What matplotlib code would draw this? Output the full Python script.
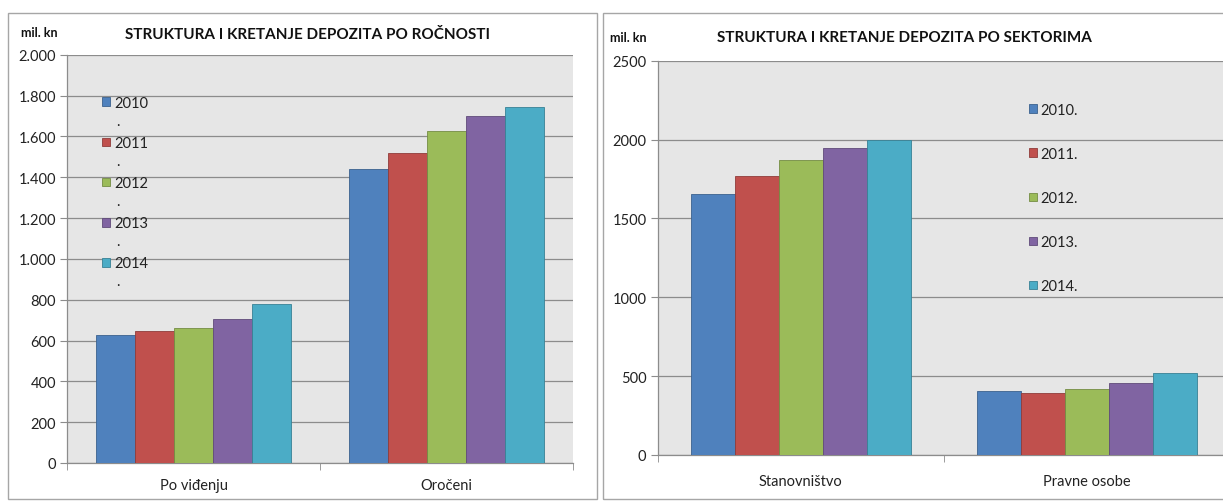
import matplotlib
matplotlib.use("Agg")
import matplotlib.pyplot as plt
import matplotlib.colors as mcolors
from matplotlib.patches import Rectangle
import numpy as np

# ---------------- data ----------------
years = ["2010", "2011", "2012", "2013", "2014"]
colors = ["#4F81BD", "#C0504D", "#9BBB59", "#8064A2", "#4BACC6"]

left_title = "STRUKTURA I KRETANJE DEPOZITA PO ROČNOSTI"
left_categories = ["Po viđenju", "Oročeni"]
left_values = {
    "2010": [625, 1438],
    "2011": [648, 1518],
    "2012": [660, 1627],
    "2013": [705, 1700],
    "2014": [778, 1743],
}
left_yticks = [0, 200, 400, 600, 800, 1000, 1200, 1400, 1600, 1800, 2000]
left_yticklabels = ["0", "200", "400", "600", "800", "1.000", "1.200",
                    "1.400", "1.600", "1.800", "2.000"]

right_title = "STRUKTURA I KRETANJE DEPOZITA PO SEKTORIMA"
right_categories = ["Stanovništvo", "Pravne osobe"]
right_values = {
    "2010.": [1658, 403],
    "2011.": [1772, 392],
    "2012.": [1873, 416],
    "2013.": [1945, 454],
    "2014.": [1995, 521],
}
right_yticks = [0, 500, 1000, 1500, 2000, 2500]
right_yticklabels = ["0", "500", "1000", "1500", "2000", "2500"]
unit_label = "mil. kn"

# ---------------- layout ----------------
W, H = 1223, 502
FONT = "Lato"
plt.rcParams["font.family"] = [FONT, "DejaVu Sans"]

fig = plt.figure(figsize=(W / 100, H / 100), dpi=100)


def fx(x):
    return x / W


def fy(y):
    return 1 - y / H


def ax_rect(l, t, r, b):
    return [fx(l), fy(b), (r - l) / W, (b - t) / H]


BG = "#E6E6E6"
GRID = "#8C8C8C"
AX = "#8C8C8C"
TXT = "#222222"

# outer frames
fig.patches.append(Rectangle((fx(8), fy(500)), (597 - 8) / W, (500 - 14) / H,
                             transform=fig.transFigure, fill=False,
                             edgecolor="#A6A6A6", linewidth=1.0))
fig.patches.append(Rectangle((fx(603), fy(500)), (1240 - 603) / W, (500 - 14) / H,
                             transform=fig.transFigure, fill=False,
                             edgecolor="#A6A6A6", linewidth=1.0))


def darker(c, f=0.8):
    r, g, b = mcolors.to_rgb(c)
    return (r * f, g * f, b * f)


def draw(ax, cats, values, yticks, yticklabels, ymax, xpad):
    n = len(values)
    x = np.arange(len(cats))
    group = 1 / 1.3
    w = group / n
    handles = []
    for i, (lab, vals) in enumerate(values.items()):
        off = (i - (n - 1) / 2) * w
        b = ax.bar(x + off, vals, width=w, color=colors[i],
                   edgecolor=darker(colors[i], 0.75), linewidth=0.6,
                   zorder=3)
        handles.append(b)
    ax.set_xlim(-0.5, len(cats) - 0.5)
    ax.set_ylim(0, ymax)
    ax.set_facecolor(BG)
    ax.set_yticks(yticks)
    ax.set_yticklabels(yticklabels)
    ax.yaxis.grid(True, color=GRID, linewidth=0.9, zorder=1)
    ax.set_axisbelow(True)
    ax.set_xticks(x)
    ax.set_xticklabels(cats)
    ax.set_xticks(np.arange(len(cats) + 1) - 0.5, minor=True)
    ax.tick_params(axis="x", which="major", length=0, pad=xpad,
                   labelsize=10.5, labelcolor=TXT)
    ax.tick_params(axis="x", which="minor", length=5, color=AX,
                   direction="out")
    ax.tick_params(axis="y", length=5, color=AX, labelsize=10.5,
                   labelcolor=TXT, pad=3)
    for s in ["top", "right"]:
        ax.spines[s].set_visible(False)
    for s in ["left", "bottom"]:
        ax.spines[s].set_color(AX)
        ax.spines[s].set_linewidth(0.9)
    return handles


# left chart
axL = fig.add_axes(ax_rect(67, 55.7, 573, 464))
hL = draw(axL, left_categories, left_values, left_yticks, left_yticklabels,
          2000, 11)
fig.text(fx(21), fy(33), unit_label, fontsize=9, fontweight="bold",
         va="center", ha="left", color="#111111")
fig.text(fx(307), fy(35), left_title, fontsize=11, fontweight="bold",
         va="center", ha="center", color="#111111")
legL = axL.legend(hL, years, loc="upper left",
                  bbox_to_anchor=(fx(102), fy(97)),
                  bbox_transform=fig.transFigure, frameon=False,
                  fontsize=10.5, handlelength=0.55, handleheight=0.55,
                  handletextpad=0.3, labelspacing=1.79,
                  borderpad=0, borderaxespad=0)
for t in legL.get_texts():
    t.set_color(TXT)
# wrapped trailing "." of each legend label (second line)
for i in range(len(years)):
    fig.text(fx(116), fy(101.7 + 40 * i + 20), ".", fontsize=10.5,
             va="center", ha="left", color=TXT)

# right chart
axR = fig.add_axes(ax_rect(657.6, 61.7, 1230, 456))
hR = draw(axR, right_categories, right_values, right_yticks,
          right_yticklabels, 2500, 14)
fig.text(fx(610), fy(38), unit_label, fontsize=9, fontweight="bold",
         va="center", ha="left", color="#111111")
fig.text(fx(904), fy(38), right_title, fontsize=11, fontweight="bold",
         va="center", ha="center", color="#111111")
legR = axR.legend(hR, list(right_values.keys()), loc="upper left",
                  bbox_to_anchor=(fx(1029), fy(104)),
                  bbox_transform=fig.transFigure, frameon=False,
                  fontsize=10.5, handlelength=0.55, handleheight=0.55,
                  handletextpad=0.25, labelspacing=2.06,
                  borderpad=0, borderaxespad=0)
for t in legR.get_texts():
    t.set_color(TXT)

fig.savefig("out.png", dpi=100, facecolor="white")
